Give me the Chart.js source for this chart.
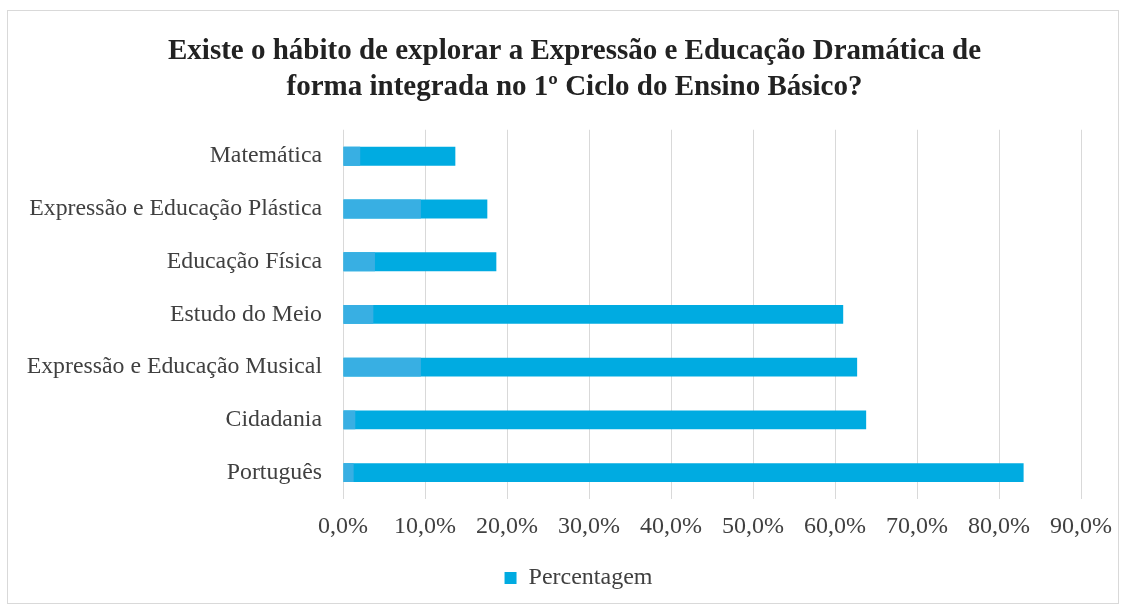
<!DOCTYPE html>
<html>
<head>
<meta charset="utf-8">
<script src="https://cdn.jsdelivr.net/npm/chart.js@4/dist/chart.umd.min.js"></script>
<style>
  html, body { margin: 0; padding: 0; background: #fff; overflow: hidden; }
  #frame {
    position: absolute; left: 7px; top: 10px;
    width: 1112px; height: 594px;
    border: 1px solid #d9d9d9; box-sizing: border-box;
  }
  #chart { display: block; }
</style>
</head>
<body>
<div id="frame"><canvas id="chart" width="1117" height="592"></canvas></div>
<script>
// Disciplinas (de cima para baixo)
const categories = [
    'Matemática',
    'Expressão e Educação Plástica',
    'Educação Física',
    'Estudo do Meio',
    'Expressão e Educação Musical',
    'Cidadania',
    'Português'
];
// Percentagem total
const percentagem = [13.7, 17.6, 18.7, 61.0, 62.7, 63.8, 83.0];
// Segmento mais claro no início de cada barra
const segmentoClaro = [2.1, 9.5, 3.9, 3.7, 9.5, 1.5, 1.3];
const xTicks = [0, 10, 20, 30, 40, 50, 60, 70, 80, 90];

const serif = "'Liberation Serif', 'Times New Roman', serif";

// title and legend sit a bit right of the canvas centre in the original
const nudgeBoxes = {
    id: 'nudgeBoxes',
    afterLayout(chart) {
        const t = chart.titleBlock, l = chart.legend;
        if (t) { t.left += 22; t.right += 22; }
        if (l) { l.left += 26; l.right += 26; }
    }
};

new Chart(document.getElementById('chart').getContext('2d'), {
    type: 'bar',
    data: {
        labels: categories,
        datasets: [
            {
                label: 'claro',
                data: segmentoClaro,
                backgroundColor: '#38afe3',
                grouped: false,
                categoryPercentage: 1,
                barPercentage: 0.36
            },
            {
                label: 'Percentagem',
                data: percentagem,
                backgroundColor: '#00abe1',
                grouped: false,
                categoryPercentage: 1,
                barPercentage: 0.36
            }
        ]
    },
    options: {
        indexAxis: 'y',
        responsive: false,
        animation: false,
        layout: { padding: { left: 0, right: 28, top: 4, bottom: 3 } },
        scales: {
            x: {
                min: 0,
                max: 90,
                afterBuildTicks: scale => { scale.ticks = xTicks.map(v => ({ value: v })); },
                afterFit: scale => { scale.height = 57; },
                ticks: {
                    font: { family: serif, size: 24 },
                    color: '#404040',
                    padding: 13,
                    maxRotation: 0,
                    callback: v => v.toFixed(1).replace('.', ',') + '%'
                },
                grid: { color: '#d9d9d9', lineWidth: 1, drawTicks: false },
                border: { display: false }
            },
            y: {
                afterFit: scale => { scale.width = 335; },
                ticks: {
                    font: { family: serif, size: 23.8 },
                    color: '#404040',
                    padding: 21
                },
                grid: { display: false, drawTicks: false },
                border: { display: false }
            }
        },
        plugins: {
            title: {
                display: true,
                text: ['Existe o hábito de explorar a Expressão e Educação Dramática de',
                       'forma integrada no 1º Ciclo do Ensino Básico?'],
                font: { family: serif, size: 29, weight: 'bold', lineHeight: 1.22 },
                color: '#222222',
                padding: { top: 19, bottom: 25 }
            },
            legend: {
                position: 'bottom',
                labels: {
                    filter: item => item.datasetIndex === 1,
                    font: { family: serif, size: 24 },
                    color: '#404040',
                    boxWidth: 12,
                    boxHeight: 12,
                    padding: 10
                }
            },
            tooltip: { enabled: false }
        }
    },
    plugins: [nudgeBoxes]
});
</script>
</body>
</html>
